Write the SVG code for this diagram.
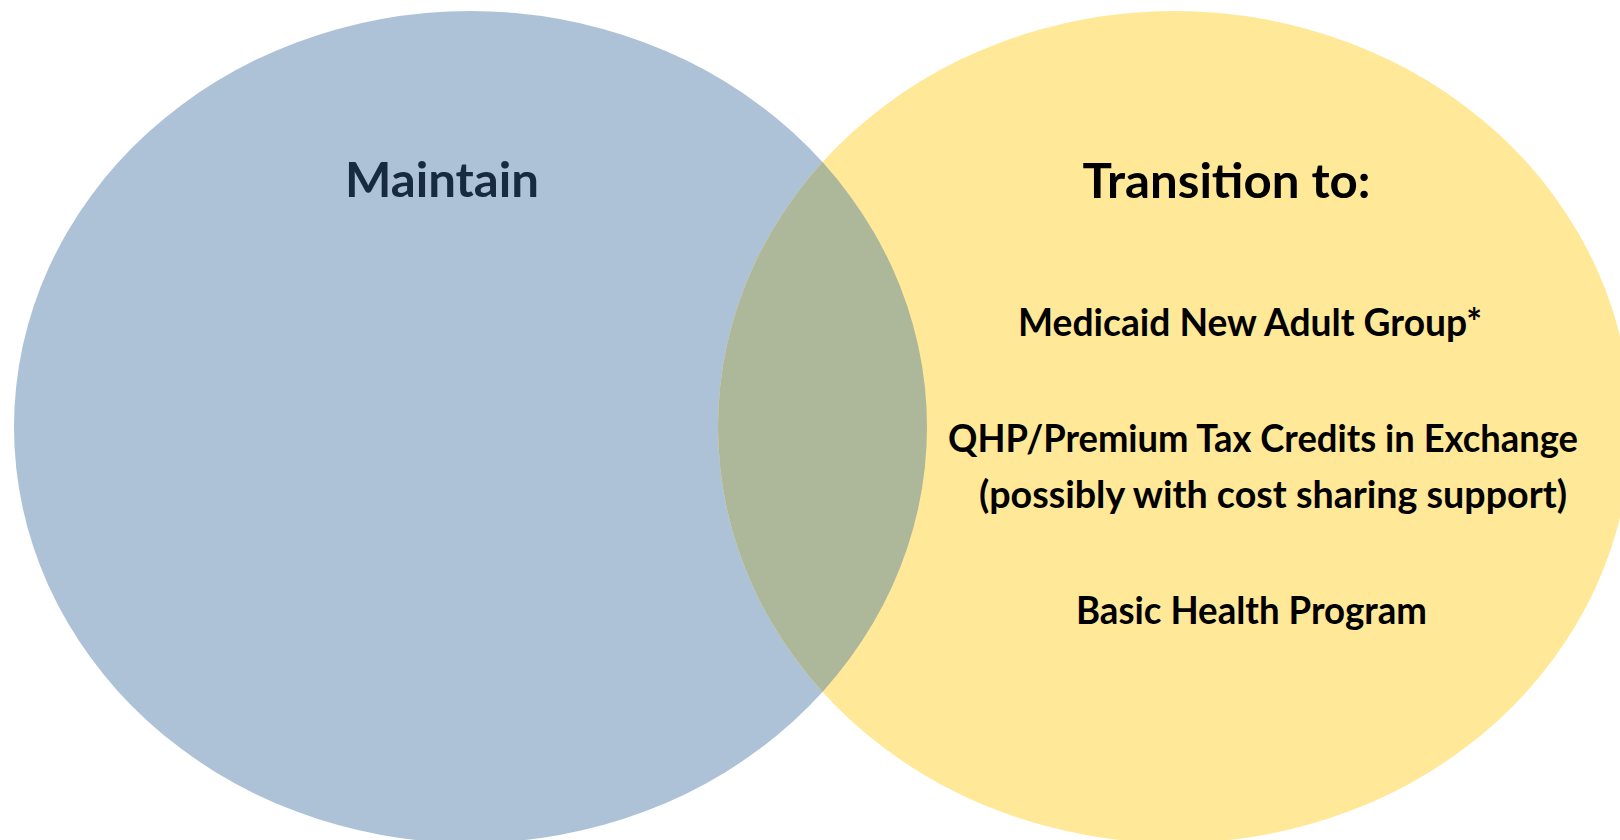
<svg xmlns="http://www.w3.org/2000/svg" width="1620" height="840" viewBox="0 0 1620 840">
  <defs>
    <style>
      .lbl { font-family: Lato, "Liberation Sans", sans-serif; font-weight: bold; text-anchor: middle; }
      .title { font-size: 47px; }
      .item { font-size: 38px; fill: #000000; }
    </style>
    <clipPath id="leftClip">
      <ellipse cx="470.5" cy="427" rx="456.5" ry="416"/>
    </clipPath>
  </defs>
  <rect width="1620" height="840" fill="#ffffff"/>

  <!-- Left set: Maintain -->
  <g id="maintain">
    <ellipse cx="470.5" cy="427" rx="456.5" ry="416" fill="#ADC2D7"/>
  </g>

  <!-- Right set: Transition to -->
  <g id="transition">
    <ellipse cx="1174.5" cy="427" rx="456.5" ry="416" fill="#FFE999"/>
  </g>

  <!-- Overlap of the two sets -->
  <g id="overlap">
    <ellipse cx="1174.5" cy="427" rx="456.5" ry="416" fill="#ADB799" clip-path="url(#leftClip)"/>
  </g>

  <!-- Labels -->
  <g id="labels">
    <text class="lbl title" x="442" y="197" fill="#172A42" textLength="194" lengthAdjust="spacingAndGlyphs">Maintain</text>
    <text class="lbl title" x="1226.5" y="198" fill="#000000" textLength="288" lengthAdjust="spacingAndGlyphs">Transition to:</text>
    <text class="lbl item" x="1250" y="336" textLength="464" lengthAdjust="spacingAndGlyphs">Medicaid New Adult Group*</text>
    <text class="lbl item" x="1263" y="452" textLength="630" lengthAdjust="spacingAndGlyphs">QHP/Premium Tax Credits in Exchange</text>
    <text class="lbl item" x="1273" y="508" textLength="588" lengthAdjust="spacingAndGlyphs">(possibly with cost sharing support)</text>
    <text class="lbl item" x="1251.5" y="624" textLength="351" lengthAdjust="spacingAndGlyphs">Basic Health Program</text>
  </g>
</svg>
